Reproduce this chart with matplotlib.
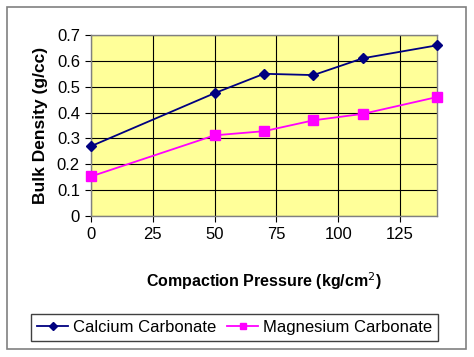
import matplotlib
matplotlib.use("Agg")
import matplotlib.pyplot as plt
from matplotlib.patches import Rectangle

pressure = [0, 50, 70, 90, 110, 140]
calcium = [0.27, 0.475, 0.55, 0.545, 0.61, 0.66]
magnesium = [0.153, 0.312, 0.328, 0.37, 0.395, 0.46]
xticks = [0, 25, 50, 75, 100, 125]
yticks = [0, 0.1, 0.2, 0.3, 0.4, 0.5, 0.6, 0.7]
ytick_labels = ["0", "0.1", "0.2", "0.3", "0.4", "0.5", "0.6", "0.7"]

plt.rcParams['font.family'] = ['Liberation Sans', 'DejaVu Sans']

fig = plt.figure(figsize=(4.74, 3.57), dpi=100)
fig.patch.set_facecolor('white')
fig.patches.append(Rectangle((7/474, 1-349/357), (466-7)/474, (349-7)/357,
                             transform=fig.transFigure, fill=False,
                             edgecolor='#808080', linewidth=1.2))

ax = fig.add_axes([91/474, 1-216/357, (437-91)/474, (216-35)/357])
ax.set_facecolor('#FFFF99')
ax.plot(pressure, calcium, color='#000080', marker='D', markersize=5.5,
        linewidth=1.3, label='Calcium Carbonate', clip_on=False, zorder=3)
ax.plot(pressure, magnesium, color='#FF00FF', marker='s', markersize=6.5,
        linewidth=1.3, label='Magnesium Carbonate', clip_on=False, zorder=3)
ax.set_xlim(0, 140)
ax.set_ylim(0, 0.7)
ax.set_xticks(xticks)
ax.set_yticks(yticks)
ax.set_yticklabels(ytick_labels)
ax.grid(True, color='black', linewidth=0.8)
ax.set_axisbelow(True)
for s in ax.spines.values():
    s.set_color('#808080')
    s.set_linewidth(1)
ax.tick_params(axis='both', labelsize=12, length=4, width=0.8, color='black', direction='out', pad=4)
ax.set_ylabel('Bulk Density (g/cc)', fontsize=12.5, fontweight='bold', labelpad=6)
ax.set_xlabel('Compaction Pressure (kg/cm$^{2}$)', fontsize=11.5, fontweight='bold', labelpad=20)

leg = fig.legend(loc='center', bbox_to_anchor=(0.495, 0.083), ncol=2, fontsize=12,
                 frameon=True, fancybox=False, edgecolor='#404040', handlelength=1.9,
                 handletextpad=0.3, columnspacing=0.6, borderpad=0.35, framealpha=1,
                 markerscale=0.75)

fig.savefig('out.png', dpi=100)
